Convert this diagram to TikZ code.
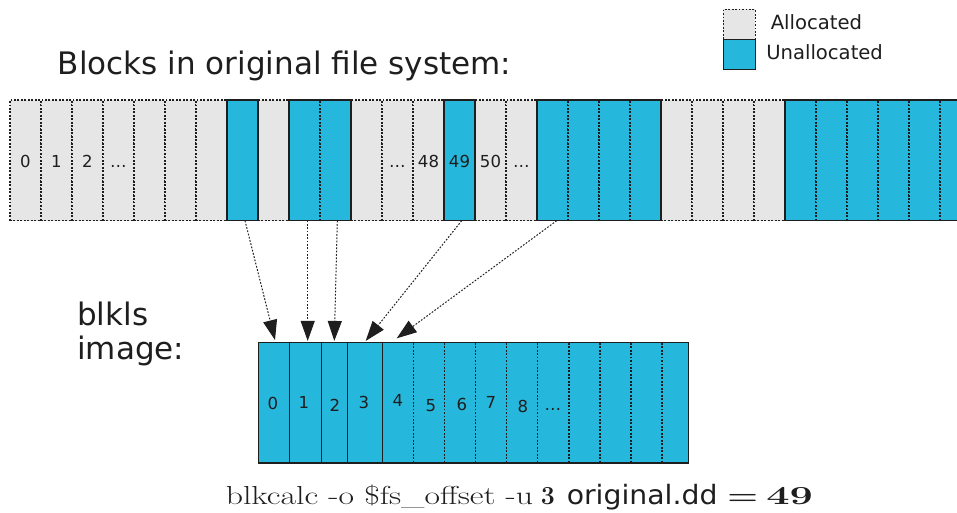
\documentclass[tikz,border=0pt]{standalone}
\usepackage{fontspec}
\newfontfamily\dv{DejaVu Sans}
\usetikzlibrary{arrows.meta,calc}
\definecolor{ublue}{RGB}{38,183,220}
\definecolor{agray}{RGB}{230,230,230}
\definecolor{edgec}{RGB}{30,30,30}
\begin{document}
\begin{tikzpicture}[x=0.75pt,y=-0.75pt,
  dotted border/.style={draw=edgec, line width=0.8pt, dash pattern=on 1.4pt off 1.2pt},
  tcell/.style={dotted border, minimum width=23.25pt, minimum height=90.5pt, inner sep=0pt, outer sep=0pt},
  bcell/.style={inner sep=0pt, outer sep=0pt, minimum height=90.2pt},
  grp/.style={draw=edgec, line width=0.8pt},
  lbl/.style={font=\dv\fontsize{12.4pt}{14pt}\selectfont, inner sep=0pt, anchor=base, text=edgec},
  conn/.style={draw=edgec, line width=0.75pt, dash pattern=on 1.3pt off 1.2pt, -{Triangle[length=15pt,width=10.5pt]}},
  big/.style={font=\dv\fontsize{23.25pt}{26pt}\selectfont, inner sep=0pt, anchor=base west, text=edgec},
  leg/.style={font=\dv\fontsize{14.7pt}{17pt}\selectfont, inner sep=0pt, anchor=base west, text=edgec},
  frm/.style={inner sep=0pt, anchor=base west, text=edgec, font=\fontsize{19.5pt}{22pt}\selectfont}
]
\useasboundingbox (0,0) rectangle (957,512);
\clip (0,0) rectangle (957,512);

% legend
\node[dotted border, fill=agray, minimum width=23.75pt, minimum height=22.5pt, inner sep=0pt] (legA) at (739.2,24.3) {};
\node[grp, fill=ublue, minimum width=23.75pt, minimum height=22.8pt, inner sep=0pt] (legU) at (739.2,54.5) {};
\node[leg] (legAt) at (770.5,29.3) {Allocated};
\node[leg] (legUt) at (766,59.3) {Unallocated};

% title
\node[big] (title) at (57.5,74.3) {Blocks in original file system:};

% top row
\foreach \i in {0,...,6,8,11,12,13,15,16,21,22,23,24}
  \node[tcell, fill=agray] (t\i) at ({25.5+31*\i},160.35) {};
\foreach \i in {7,9,10,14,17,18,19,20,25,26,27,28,29,30}
  \node[tcell, fill=ublue] (t\i) at ({25.5+31*\i},160.35) {};
\draw[grp] (t7.north west) rectangle (t7.south east);
\draw[grp] (t9.north west) rectangle (t10.south east);
\draw[grp] (t14.north west) rectangle (t14.south east);
\draw[grp] (t17.north west) rectangle (t20.south east);
\draw[grp] (t25.north west) rectangle (t30.south east);

\node[lbl] (tl0) at (25.5,167) {0};
\node[lbl] (tl1) at (56.5,167) {1};
\node[lbl] (tl2) at (87.5,167) {2};
\node[lbl] (tl3) at (118.5,167) {…};
\node[lbl] (tl12) at (397.5,167) {…};
\node[lbl] (tl13) at (428.5,167) {48};
\node[lbl] (tl14) at (459.5,167) {49};
\node[lbl] (tl15) at (490.5,167) {50};
\node[lbl] (tl16) at (521.5,167) {…};

% blkls image label
\node[big] (blklsA) at (77,325) {blkls};
\node[big] (blklsB) at (77,359) {image:};

% bottom row
\foreach \i/\l/\r in {0/258.3/289.3,1/289.3/321.7,2/321.7/347.3,3/347.3/382.7,4/382.7/413.3,5/413.3/444.7,6/444.7/475.7,7/475.7/506.7,8/506.7/537.7,9/537.7/569,10/569/600,11/600/631,12/631/662,13/662/688.3}{
  \pgfmathsetmacro\w{(\r-\l)*0.75}
  \node[bcell, fill=ublue, minimum width=\w pt] (b\i) at ({(\l+\r)/2},402.85) {};
}
\foreach \i in {4,...,12}
  \draw[dotted border] (b\i.north east) -- (b\i.south east);
\draw[grp] (b0.north west) rectangle (b13.south east);
\foreach \i in {0,1,2,3}
  \draw[draw=edgec, line width=1.1pt] (b\i.north west) rectangle (b\i.south east);

\node[lbl] (bl0) at (273,409) {0};
\node[lbl] (bl1) at (304,408) {1};
\node[lbl] (bl2) at (335,411) {2};
\node[lbl] (bl3) at (364,408) {3};
\node[lbl] (bl4) at (398,406) {4};
\node[lbl] (bl5) at (431,411) {5};
\node[lbl] (bl6) at (462,410) {6};
\node[lbl] (bl7) at (491,408) {7};
\node[lbl] (bl8) at (523,412) {8};
\node[lbl] (bl9) at (553,410) {…};

% connectors
\draw[conn] ($(t7.south)+(2.5,0)$) -- ($(b0.north)+(1.2,-2.7)$);
\draw[conn] ($(t9.south)+(3.2,0)$) -- ($(b1.north)+(2.2,-1.8)$);
\draw[conn] ($(t10.south)+(1.8,0)$) -- ($(b2.north)+(-0.2,-1.8)$);
\draw[conn] ($(t14.south)+(2.2,0)$) -- ($(b3.north)+(0.7,-1.8)$);
\draw[conn] ($(t17.south)+(4.2,0)$) -- ($(b4.north)+(-1.3,-4.4)$);

% formula
\node[frm] (calcA) at (225.5,504.5) {\resizebox{230.5pt}{\height}{blkcalc -o \$fs\_offset -u}};
\node[frm] (calcB) at (540.5,504.5) {\resizebox{10.5pt}{\height}{\textbf{3}}};
\node[frm, font=\dv\fontsize{20pt}{22pt}\selectfont] (calcC) at (566.5,504.5) {\resizebox{113pt}{\height}{original.dd}};
\node[frm] (calcD) at (727,504.5) {\resizebox{23pt}{\height}{\textbf{=}}};
\node[frm] (calcE) at (766,504.5) {\resizebox{35pt}{\height}{\textbf{49}}};
\end{tikzpicture}
\end{document}
